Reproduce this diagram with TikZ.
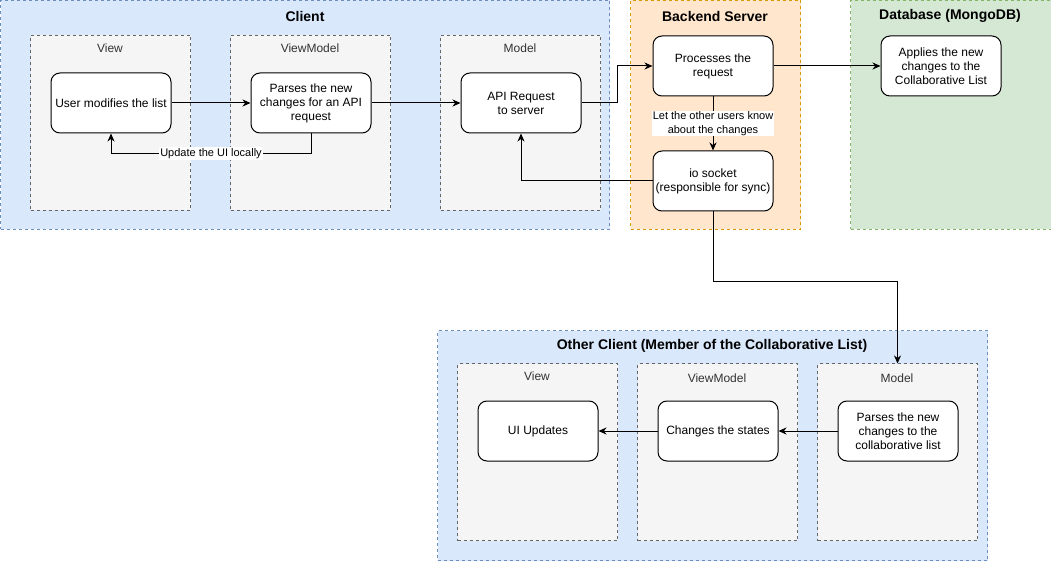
\documentclass[tikz,border=0pt]{standalone}
\usepackage{fontspec}
\setmainfont{Liberation Sans}
\usetikzlibrary{arrows.meta}
\definecolor{cliFill}{HTML}{DAE8FC}
\definecolor{cliLine}{HTML}{6C8EBF}
\definecolor{beFill}{HTML}{FFE6CC}
\definecolor{beLine}{HTML}{D79B00}
\definecolor{dbFill}{HTML}{D5E8D4}
\definecolor{dbLine}{HTML}{82B366}
\definecolor{subFill}{HTML}{F5F5F5}
\definecolor{subLine}{HTML}{666666}
\definecolor{subText}{HTML}{333333}
\tikzset{
  cont/.style={draw, line width=0.8pt, dash pattern=on 3pt off 3pt, anchor=north west, inner sep=0pt, outer sep=0pt},
  subc/.style={draw=subLine, fill=subFill, line width=0.8pt, dash pattern=on 3pt off 3pt, anchor=north west,
    minimum width=160pt, minimum height=175pt, inner sep=0pt, outer sep=0pt},
  ctitle/.style={font=\fontsize{14}{16}\selectfont\bfseries, inner sep=0pt},
  stitle/.style={font=\fontsize{12}{14}\selectfont, text=subText, inner sep=0pt},
  box/.style={draw, fill=white, line width=1pt, rounded corners=9pt, minimum width=120pt, minimum height=60pt,
    align=center, inner sep=2pt, anchor=north west, font=\fontsize{12}{14}\selectfont},
  arr/.style={line width=1pt, -{Stealth[length=8pt,width=7pt,inset=2.5pt]}},
  lbl/.style={fill=white, inner sep=1pt, align=center, font=\fontsize{11}{13.5}\selectfont}
}
\begin{document}
\begin{tikzpicture}[x=1pt,y=-1pt]
\useasboundingbox (0,0) rectangle (1051,561);
% containers
\node[cont, draw=cliLine, fill=cliFill, minimum width=609pt, minimum height=229pt] (client) at (0.5,0.5) {};
\node[ctitle] (clientT) at (305,16) {Client};
\node[cont, draw=beLine, fill=beFill, minimum width=170pt, minimum height=229pt] (backend) at (630.5,0.5) {};
\node[ctitle] (backendT) at (715,16) {Backend Server};
\node[cont, draw=dbLine, fill=dbFill, minimum width=201pt, minimum height=229pt] (db) at (850.5,0.5) {};
\node[ctitle] (dbT) at (950,16) {Database (MongoDB)};
\node[cont, draw=cliLine, fill=cliFill, minimum width=550pt, minimum height=230pt] (other) at (437.5,330.5) {};
\node[ctitle] (otherT) at (712,346) {Other Client (Member of the Collaborative List)};
% client subcontainers
\node[subc] (cview) at (30.5,35.5) {};
\node[stitle] (cviewT) at (110,48) {View};
\node[subc] (cvm) at (230.5,35.5) {};
\node[stitle] (cvmT) at (310,48) {ViewModel};
\node[subc] (cmodel) at (440.5,35.5) {};
\node[stitle] (cmodelT) at (520,48) {Model};
% other client subcontainers
\node[subc, minimum height=177pt] (oview) at (457.5,363.5) {};
\node[stitle] (oviewT) at (537,376) {View};
\node[subc, minimum height=177pt] (ovm) at (637.5,363.5) {};
\node[stitle] (ovmT) at (717,378) {ViewModel};
\node[subc, minimum height=177pt] (omodel) at (817.5,363.5) {};
\node[stitle] (omodelT) at (897,378) {Model};
% boxes
\node[box] (user) at (50.5,72.5) {User modifies the list};
\node[box] (parse) at (250.5,72.5) {Parses the new\\changes for an API\\request};
\node[box] (api) at (460.5,72.5) {API Request\\to server};
\node[box] (proc) at (652.5,35.5) {Processes the\\request};
\node[box] (io) at (652.5,150.5) {io socket\\(responsible for sync)};
\node[box] (apply) at (880.5,35.5) {Applies the new\\changes to the\\Collaborative List};
\node[box] (oui) at (477.5,400.5) {UI Updates};
\node[box] (ostate) at (657.5,400.5) {Changes the states};
\node[box] (oparse) at (837.5,400.5) {Parses the new\\changes to the\\collaborative list};
% connectors
\draw[arr] (user) -- (parse);
\draw[arr] (parse.south) -- ++(0,20) -| node[pos=0.25, lbl] {Update the UI locally} (user.south);
\draw[arr] (parse) -- (api);
\draw[arr] (api.east) -- ++(36,0) |- (proc.west);
\draw[arr] (proc) -- (apply);
\draw[arr] (proc) -- node[lbl] {Let the other users know\\about the changes} (io);
\draw[arr] (io.west) -| (api.south);
\draw[arr] (io.south) -- ++(0,70) -| (omodel.north);
\draw[arr] (oparse) -- (ostate);
\draw[arr] (ostate) -- (oui);
\end{tikzpicture}
\end{document}
